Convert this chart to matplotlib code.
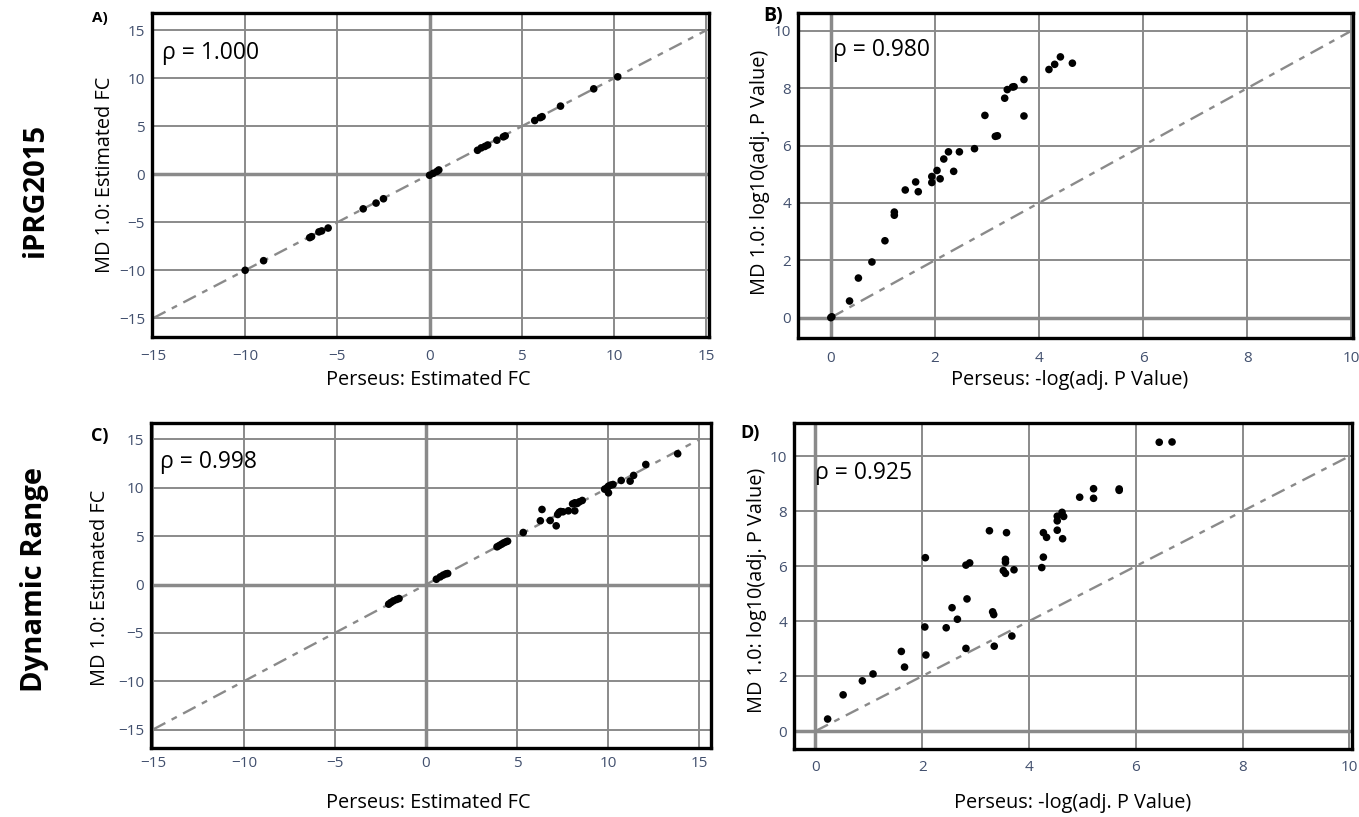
import matplotlib
matplotlib.use('Agg')
import matplotlib.pyplot as plt

plt.rcParams['font.family'] = ['Open Sans', 'DejaVu Sans']

# A) iPRG2015: estimated fold change
a_x = [-10.0, -9.0, -6.5, -6.4, -6.0, -5.85, -5.5, -3.6, -2.9, -2.5,
       0.0, 0.2, 0.4, 0.5, 2.6, 2.8, 3.0, 3.15, 3.65, 4.0, 4.1,
       5.7, 6.0, 6.1, 7.1, 8.9, 10.2]
a_y = [-10.0, -9.0, -6.6, -6.5, -6.0, -5.9, -5.6, -3.6, -3.0, -2.55,
       -0.1, 0.1, 0.3, 0.45, 2.5, 2.75, 2.9, 3.05, 3.55, 3.9, 4.0,
       5.6, 5.9, 6.0, 7.1, 8.9, 10.15]

# B) iPRG2015: -log adj. p value
b_x = [0.0, 0.02, 0.36, 0.53, 0.79, 1.04, 1.22, 1.22, 1.43, 1.63, 1.68,
       1.94, 1.94, 2.04, 2.10, 2.17, 2.26, 2.36, 2.47, 2.76, 2.96, 3.16,
       3.20, 3.34, 3.39, 3.49, 3.52, 3.71, 3.71, 4.19, 4.30, 4.41, 4.64]
b_y = [0.0, 0.03, 0.58, 1.38, 1.94, 2.68, 3.68, 3.57, 4.45, 4.73, 4.39,
       4.92, 4.71, 5.13, 4.84, 5.53, 5.78, 5.10, 5.78, 5.89, 7.05, 6.32,
       6.34, 7.65, 7.95, 8.04, 8.05, 8.30, 7.03, 8.65, 8.83, 9.09, 8.87]

# C) Dynamic Range: estimated fold change
c_x = [-2.05, -1.93, -1.79, -1.62, -1.48, 0.57, 0.78, 0.94, 1.09, 1.19,
       3.90, 4.02, 4.15, 4.27, 4.39, 4.48, 5.34, 6.28, 6.37, 6.82, 7.15,
       7.23, 7.31, 7.39, 7.52, 7.82, 8.05, 8.17, 8.30, 8.42, 8.58, 8.17,
       9.81, 9.94, 10.02, 10.14, 10.27, 10.02, 10.72, 11.21, 11.40, 12.07,
       13.82]
c_y = [-2.03, -1.86, -1.69, -1.55, -1.45, 0.55, 0.79, 0.97, 1.10, 1.14,
       3.90, 4.03, 4.17, 4.31, 4.41, 4.48, 5.38, 6.59, 7.76, 6.62, 6.07,
       7.24, 7.45, 7.55, 7.52, 7.62, 8.34, 8.45, 8.38, 8.55, 8.69, 7.62,
       9.86, 10.00, 10.17, 10.28, 10.34, 9.48, 10.76, 10.69, 11.28, 12.41,
       13.52]

# D) Dynamic Range: -log adj. p value
d_x = [0.23, 0.52, 0.88, 1.08, 1.61, 1.67, 2.05, 2.06, 2.07, 2.45, 2.56,
       2.66, 2.82, 2.84, 2.89, 2.82, 3.26, 3.32, 3.34, 3.35, 3.52, 3.56,
       3.56, 3.56, 3.58, 3.68, 3.72, 4.24, 4.27, 4.27, 4.33, 4.53, 4.53,
       4.53, 4.62, 4.65, 4.63, 4.95, 5.21, 5.21, 5.69, 5.69, 6.44, 6.68]
d_y = [0.44, 1.32, 1.83, 2.08, 2.90, 2.33, 3.79, 6.31, 2.77, 3.76, 4.49,
       4.07, 6.04, 4.81, 6.12, 3.01, 7.29, 4.34, 4.24, 3.09, 5.84, 5.74,
       6.25, 6.14, 7.22, 3.46, 5.87, 5.95, 6.33, 7.22, 7.05, 7.82, 7.65,
       7.31, 7.96, 7.81, 7.00, 8.51, 8.82, 8.47, 8.81, 8.76, 10.51, 10.52]

rho_labels = ['ρ = 1.000', 'ρ = 0.980', 'ρ = 0.998', 'ρ = 0.925']
fc_ticks = [-15, -10, -5, 0, 5, 10, 15]
p_xticks = [0, 2, 4, 6, 8, 10]
p_yticks = [0, 2, 4, 6, 8, 10]

W, H = 1359, 817
fig = plt.figure(figsize=(W / 100, H / 100), dpi=100)


def box(l, t, r, b):
    return [l / W, 1 - b / H, (r - l) / W, (b - t) / H]


def fpos(x, y):
    return x / W, 1 - y / H


grid_col = '#8a8a8a'
tick_col = '#42506e'


def draw(ax, x, y, xlim, ylim, xticks, yticks, diag, rho, rho_pos):
    ax.set_xlim(xlim)
    ax.set_ylim(ylim)
    ax.set_xticks(xticks)
    ax.set_yticks(yticks)
    ax.grid(True, color=grid_col, lw=1.4, zorder=0)
    ax.axhline(0, color=grid_col, lw=2.5, zorder=1)
    ax.axvline(0, color=grid_col, lw=2.5, zorder=1)
    ax.plot(diag, diag, color=grid_col, lw=1.7, dashes=(6, 3, 2.5, 3), zorder=2)
    ax.scatter(x, y, s=30, color='black', edgecolors='none', zorder=3)
    ax.tick_params(length=0, labelsize=11, colors=tick_col)
    ax.tick_params(axis='x', pad=9)
    ax.tick_params(axis='y', pad=5)
    for s in ax.spines.values():
        s.set_linewidth(2.4)
        s.set_color('black')
    ax.set_axisbelow(True)
    ax.text(rho_pos[0], rho_pos[1], rho, transform=ax.transAxes,
            fontsize=16.5, va='center', ha='left', color='black')


ax_a = fig.add_axes(box(152, 13, 709, 337))
draw(ax_a, a_x, a_y, (-15.05, 15.15), (-16.95, 16.8), fc_ticks, fc_ticks,
     [-15, 15], rho_labels[0], (0.018, 0.877))

ax_b = fig.add_axes(box(798, 13, 1353, 338))
draw(ax_b, b_x, b_y, (-0.63, 10.03), (-0.71, 10.62), p_xticks, p_yticks,
     [0, 10], rho_labels[1], (0.063, 0.886))

ax_c = fig.add_axes(box(151, 423, 711, 748))
draw(ax_c, c_x, c_y, (-15.1, 15.65), (-16.9, 16.7), fc_ticks, fc_ticks,
     [-15, 15], rho_labels[2], (0.016, 0.88))
ax_c.tick_params(axis='x', pad=6)

ax_d = fig.add_axes(box(794, 423, 1352, 749))
draw(ax_d, d_x, d_y, (-0.4, 10.05), (-0.65, 11.21), p_xticks, p_yticks,
     [0, 10], rho_labels[3], (0.038, 0.847))
ax_d.tick_params(axis='x', pad=8)

# axis titles
lab = dict(fontsize=14.3, color='black', ha='center', va='center')
fig.text(*fpos(428, 380), 'Perseus: Estimated FC', **lab)
fig.text(*fpos(1070, 380), 'Perseus: -log(adj. P Value)', **lab)
fig.text(*fpos(428, 803), 'Perseus: Estimated FC', **lab)
fig.text(*fpos(1073, 803), 'Perseus: -log(adj. P Value)', **lab)
fig.text(*fpos(105, 175), 'MD 1.0: Estimated FC', rotation=90, **lab)
fig.text(*fpos(760, 172), 'MD 1.0: log10(adj. P Value)', rotation=90, **lab)
fig.text(*fpos(100, 588), 'MD 1.0: Estimated FC', rotation=90, **lab)
fig.text(*fpos(757, 590), 'MD 1.0: log10(adj. P Value)', rotation=90, **lab)

# row titles
row = dict(fontsize=21, fontweight='bold', rotation=90, ha='center', va='center')
fig.text(*fpos(35, 190), 'iPRG2015', **row)
fig.text(*fpos(35, 580), 'Dynamic Range', **row)

# panel letters
fig.text(*fpos(100, 18), 'A)', fontsize=11, fontweight='bold', ha='center', va='center')
fig.text(*fpos(773, 16), 'B)', fontsize=14, fontweight='bold', ha='center', va='center')
fig.text(*fpos(100, 436), 'C)', fontsize=13, fontweight='bold', ha='center', va='center')
fig.text(*fpos(750, 433), 'D)', fontsize=13, fontweight='bold', ha='center', va='center')

fig.savefig('out.png', dpi=100)
